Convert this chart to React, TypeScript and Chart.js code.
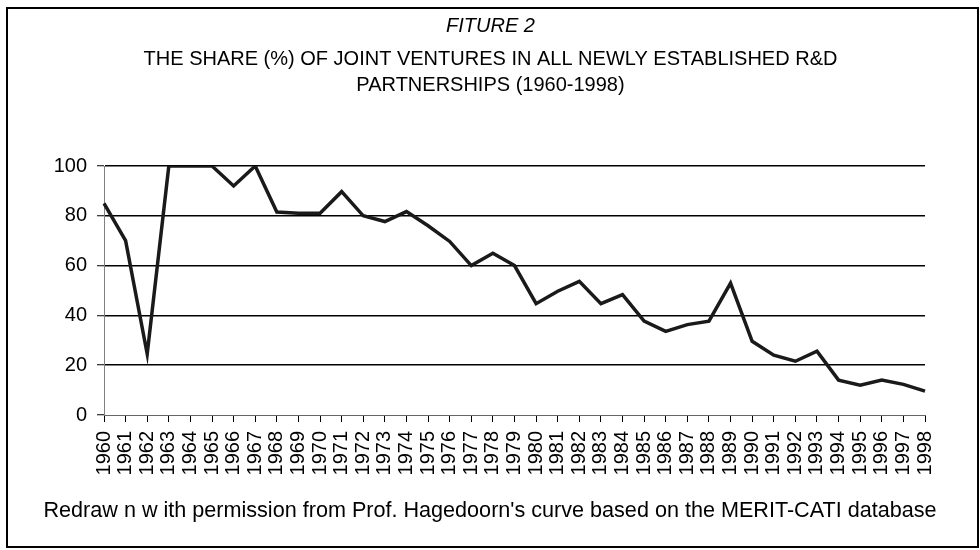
import React, { useEffect, useRef } from "react";
import { Chart, registerables } from "chart.js";

Chart.register(...registerables);

const years = [
  "1960", "1961", "1962", "1963", "1964", "1965", "1966", "1967", "1968", "1969",
  "1970", "1971", "1972", "1973", "1974", "1975", "1976", "1977", "1978", "1979",
  "1980", "1981", "1982", "1983", "1984", "1985", "1986", "1987", "1988", "1989",
  "1990", "1991", "1992", "1993", "1994", "1995", "1996", "1997", "1998",
];

const jvShare = [
  85, 70, 24.5, 100, 100, 100, 92, 100, 81.5, 81,
  81, 89.7, 80, 77.7, 81.7, 76, 69.7, 60, 65, 60,
  44.7, 49.7, 53.7, 44.7, 48.3, 37.7, 33.6, 36.3, 37.7, 53,
  29.6, 24, 21.6, 25.6, 14, 12, 14, 12.3, 9.6,
];

const titleLine = "FITURE 2";
const subtitleLines = [
  "THE SHARE (%) OF JOINT VENTURES IN ALL NEWLY ESTABLISHED R&D",
  "PARTNERSHIPS (1960-1998)",
];
const footerText =
  "Redraw n w ith permission from Prof. Hagedoorn's curve based on the MERIT-CATI database";

const FONT = '"Liberation Sans", Arial, sans-serif';

export default function App() {
  const ref = useRef<HTMLCanvasElement | null>(null);

  useEffect(() => {
    if (!ref.current) return;
    const footerPlugin = {
      id: "footerText",
      afterDraw(chart: any) {
        const ctx = chart.ctx;
        ctx.save();
        ctx.font = `21.6px ${FONT}`;
        ctx.fillStyle = "#000";
        ctx.textAlign = "center";
        ctx.textBaseline = "middle";
        ctx.fillText(footerText, 482, 502);
        ctx.restore();
      },
    };
    const chart = new Chart(ref.current, {
      type: "line",
      data: {
        labels: years,
        datasets: [
          {
            data: jvShare,
            borderColor: "#1a1a1a",
            borderWidth: 3.5,
            pointRadius: 0,
            tension: 0,
            fill: false,
            yAxisID: "y",
          },
        ],
      },
      options: {
        animation: false,
        responsive: false,
        layout: { padding: { top: 0, left: 0, right: 4, bottom: 61 } },
        plugins: {
          legend: { display: false },
          tooltip: { enabled: false },
          title: {
            display: true,
            text: titleLine,
            color: "#000",
            font: { family: FONT, size: 20, style: "italic", weight: "normal", lineHeight: 1.3 },
            padding: { top: 4, bottom: 7.5 },
          },
          subtitle: {
            display: true,
            text: subtitleLines,
            color: "#000",
            font: { family: FONT, size: 20, weight: "normal", lineHeight: 1.3 },
            padding: { top: 0, bottom: 67.5 },
          },
        },
        scales: {
          x: {
            offset: false,
            afterFit(scale: any) {
              scale.height = 70;
            },
            border: { display: true, color: "#666", width: 1 },
            grid: {
              drawOnChartArea: false,
              drawTicks: true,
              tickLength: 7,
              color: "#000",
              tickColor: "#000",
            },
            ticks: {
              color: "#000",
              font: { family: FONT, size: 20 },
              minRotation: 90,
              maxRotation: 90,
              autoSkip: false,
              padding: 9,
            },
          },
          y: {
            min: 0,
            max: 100,
            afterFit(scale: any) {
              scale.width = 96;
            },
            border: { display: true, color: "#808080", width: 1 },
            grid: {
              color: (ctx: any) => (ctx.tick && ctx.tick.value === 0 ? "rgba(0,0,0,0)" : "#000"),
              lineWidth: 1.5,
              tickColor: "#000",
              tickWidth: 1,
              tickLength: 7,
            },
            ticks: {
              stepSize: 20,
              color: "#000",
              font: { family: FONT, size: 20 },
              padding: 10,
            },
          },
          yRight: {
            position: "right",
            display: true,
            afterFit(scale: any) {
              scale.width = 48;
            },
            border: { display: false },
            grid: { drawOnChartArea: false, drawTicks: false, display: false },
            ticks: { display: false },
          },
        },
      },
      plugins: [footerPlugin],
    });
    return () => chart.destroy();
  }, []);

  return (
    <div
      style={{
        position: "absolute",
        left: 6,
        top: 7,
        width: 973,
        height: 541,
        border: "2px solid #000",
        boxSizing: "border-box",
        background: "#fff",
      }}
    >
      <canvas ref={ref} width={969} height={537} style={{ display: "block" }} />
    </div>
  );
}
